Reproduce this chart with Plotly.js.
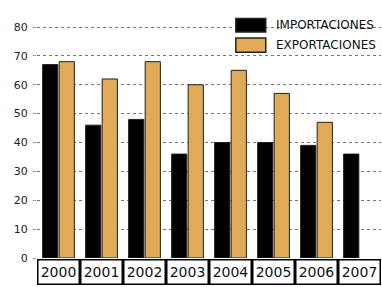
<!DOCTYPE html>
<html>
<head>
<meta charset="utf-8">
<script src="https://cdn.plot.ly/plotly-3.0.1.min.js"></script>
<style>html,body{margin:0;padding:0;background:#fff;}#chart{width:382px;height:287px;}</style>
</head>
<body>
<div id="chart"></div>
<script>
const years = ["2000","2001","2002","2003","2004","2005","2006","2007"];
const importaciones = [67, 46, 48, 36, 40, 40, 39, 36];
const exportaciones = [68, 62, 68, 60, 65, 57, 47, null];
const seriesNames = ["IMPORTACIONES", "EXPORTACIONES"];
const seriesColors = ["#000000", "#E1AA57"];
const yTicks = [0, 10, 20, 30, 40, 50, 60, 70, 80];

const font = "DejaVu Sans, Arial, sans-serif";

const traces = [
  {type: "bar", x: years, y: importaciones, name: seriesNames[0],
   marker: {color: seriesColors[0], line: {color: "#222", width: 1}}},
  {type: "bar", x: years, y: exportaciones, name: seriesNames[1],
   marker: {color: seriesColors[1], line: {color: "#222", width: 1}}}
];

// year label boxes under the axis
const annotations = years.map((yr, i) => ({
  x: i, xref: "x", y: 0, yref: "paper", yanchor: "top", yshift: -1,
  text: yr, showarrow: false, width: 40, height: 23,
  bordercolor: "#000", borderwidth: 1.5, borderpad: 0,
  font: {family: font, size: 14, color: "#111"}
}));

// custom legend
const legendShapes = [];
const legTop = [1.0325, 0.948];
const legBot = [0.974, 0.887];
seriesNames.forEach((n, i) => {
  legendShapes.push({type: "rect", xref: "paper", yref: "paper",
    x0: 0.578, x1: 0.665, y0: legBot[i], y1: legTop[i],
    fillcolor: seriesColors[i], line: {color: "#222", width: 1.5}});
  annotations.push({x: 0.688, xref: "paper", xanchor: "left",
    y: (legTop[i] + legBot[i]) / 2, yref: "paper", yanchor: "middle",
    text: n, showarrow: false, font: {family: font, size: 12, color: "#111"}});
});

const layout = {
  width: 382, height: 287,
  margin: {l: 37, r: 1, t: 26, b: 29},
  paper_bgcolor: "#fff", plot_bgcolor: "#fff",
  showlegend: false,
  barmode: "group", bargap: 0.23, bargroupgap: 0.08,
  xaxis: {type: "category", range: [-0.5, years.length - 0.5], autorange: false,
          showticklabels: false, showgrid: false, zeroline: false,
          showline: false, ticks: "", fixedrange: true},
  yaxis: {range: [0, 80.35], autorange: false, tickvals: yTicks, ticktext: yTicks.map(String),
          showgrid: true, gridcolor: "#777", gridwidth: 1, griddash: "3px,3px",
          zeroline: false, showline: false, ticks: "outside", ticklen: 3, tickcolor: "#999",
          ticklabelstandoff: 3,
          tickfont: {family: font, size: 11, color: "#222"}},
  shapes: legendShapes,
  annotations: annotations
};

Plotly.newPlot("chart", traces, layout, {displayModeBar: false, staticPlot: true});
</script>
</body>
</html>
